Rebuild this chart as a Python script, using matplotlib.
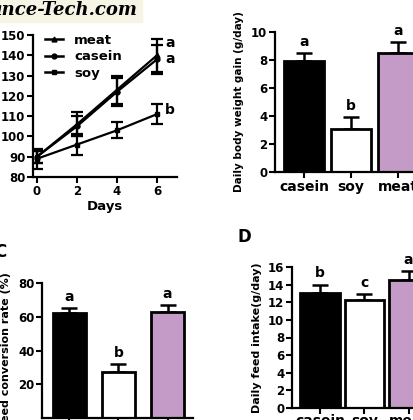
import numpy as np
import matplotlib
matplotlib.use("Agg")
import matplotlib.pyplot as plt
from matplotlib.lines import Line2D

plt.rcParams["font.family"] = ["DejaVu Sans"]
plt.rcParams["font.weight"] = "bold"

# --- data ---
days = [0, 2, 4, 6]
meat_bw = [90, 106, 123, 140]
meat_err = [3, 6, 7, 8]
casein_bw = [90, 105, 122, 138]
casein_err = [3, 5, 7, 7]
soy_bw = [89, 96, 103, 111]
soy_err = [5, 5, 4, 5]
line_letters = ["a", "a", "b"]
line_letter_y = [146, 138, 113]

groups = ["casein", "soy", "meat"]
gain = [7.9, 3.1, 8.5]
gain_err = [0.6, 0.8, 0.8]
gain_letters = ["a", "b", "a"]

fcr = [62, 27, 63]
fcr_err = [3, 5, 4]
fcr_letters = ["a", "b", "a"]

intake = [13.0, 12.2, 14.5]
intake_err = [1.0, 0.7, 1.0]
intake_letters = ["b", "c", "a"]

bar_colors = ["black", "white", "#c49ac6"]

W, H = 414, 420
fig = plt.figure(figsize=(W / 100, H / 100), dpi=100)


def ax_px(left, top, right, bottom):
    return fig.add_axes([left / W, 1 - bottom / H, (right - left) / W, (bottom - top) / H])


def style(ax, size=8, xsize=9, xpad=2):
    for s in ["top", "right"]:
        ax.spines[s].set_visible(False)
    for s in ["left", "bottom"]:
        ax.spines[s].set_linewidth(1.6)
    ax.tick_params(width=1.5, length=4)
    ax.tick_params(axis="y", labelsize=size, pad=1.5)
    ax.tick_params(axis="x", labelsize=xsize, pad=xpad)
    for lab in ax.get_xticklabels() + ax.get_yticklabels():
        lab.set_fontweight("bold")


def bar_panel(ax, vals, errs, letters, width):
    x = np.arange(len(vals))
    ax.bar(x, vals, width=width, color=bar_colors, edgecolor="black", linewidth=2, zorder=2)
    ax.errorbar(x, vals, yerr=[np.zeros(len(errs)), errs], fmt="none",
                ecolor="black", elinewidth=1.8, capsize=6, capthick=1.8, zorder=1)
    for xi, v, e, let in zip(x, vals, errs, letters):
        ax.annotate(let, (xi, v + e), xytext=(0, 3), textcoords="offset points",
                    ha="center", va="bottom", fontsize=10, fontweight="bold")
    ax.set_xticks(x)
    ax.set_xticklabels(groups)


# watermark strip
fig.patches.append(plt.Rectangle((0, 1 - 22 / H), 142 / W, 22 / H, transform=fig.transFigure,
                                 color="#f6f4e4", zorder=0))
fig.text(-9 / W, 1 - 10 / H, "ance-Tech.com", fontsize=13, fontweight="bold",
         fontstyle="italic", family="DejaVu Serif", va="center", ha="left")

# --- panel A: body weight over days ---
axA = ax_px(33, 35, 177, 177)
kw = dict(color="black", ms=3.5, lw=1.6, capsize=4, capthick=1.6, elinewidth=1.6)
axA.errorbar(days, meat_bw, yerr=meat_err, marker="^", **kw)
axA.errorbar(days, casein_bw, yerr=casein_err, marker="o", **kw)
axA.errorbar(days, soy_bw, yerr=soy_err, marker="s", **kw)
axA.set_xlim(-0.2, 7)
axA.set_ylim(80, 150)
axA.set_xticks(days)
axA.set_yticks(range(80, 151, 10))
for let, y in zip(line_letters, line_letter_y):
    axA.text(6.65, y, let, fontsize=10, fontweight="bold", ha="center", va="center")
axA.set_xlabel("Days", fontsize=9.5, fontweight="bold", labelpad=1)
handles = [Line2D([], [], color="black", lw=1.8, marker=m, ms=3.5)
           for m in ["^", "o", "s"]]
axA.legend(handles, ["meat", "casein", "soy"], loc="upper left",
           bbox_to_anchor=(0.0, 1.09), frameon=False, handlelength=1.4,
           handletextpad=0.8, labelspacing=0.25, prop={"size": 9.5, "weight": "bold"})
style(axA, size=8.5, xsize=8.5)

# --- panel B: daily body weight gain ---
axB = ax_px(275, 32, 426, 172)
bar_panel(axB, gain, gain_err, gain_letters, width=0.85)
axB.set_xlim(-0.62, 2.6)
axB.set_ylim(0, 10)
axB.set_yticks(range(0, 11, 2))
axB.set_ylabel("Daily body weight gain (g/day)", fontsize=7.5, fontweight="bold", labelpad=5)
style(axB, size=8.5, xsize=10)

# --- panel C: feed conversion rate ---
axC = ax_px(42, 283, 193, 418)
bar_panel(axC, fcr, fcr_err, fcr_letters, width=0.66)
axC.set_xlim(-0.56, 2.52)
axC.set_ylim(0, 80)
axC.set_yticks(range(20, 81, 20))
axC.set_ylabel("Feed conversion rate (%)", fontsize=8, fontweight="bold", labelpad=5)
style(axC, size=8.5)
fig.text(-6 / W, 1 - 252 / H, "C", fontsize=12, fontweight="bold", va="center")

# --- panel D: daily feed intake ---
axD = ax_px(292, 267, 435, 408)
bar_panel(axD, intake, intake_err, intake_letters, width=0.9)
axD.set_xlim(-0.64, 2.6)
axD.set_ylim(0, 16)
axD.set_yticks(range(0, 17, 2))
axD.set_ylabel("Daily feed intake(g/day)", fontsize=8, fontweight="bold", labelpad=4)
style(axD, size=8.5, xsize=10, xpad=0.5)
fig.text(238 / W, 1 - 237 / H, "D", fontsize=12, fontweight="bold", va="center")

fig.savefig("out.png", dpi=100)
